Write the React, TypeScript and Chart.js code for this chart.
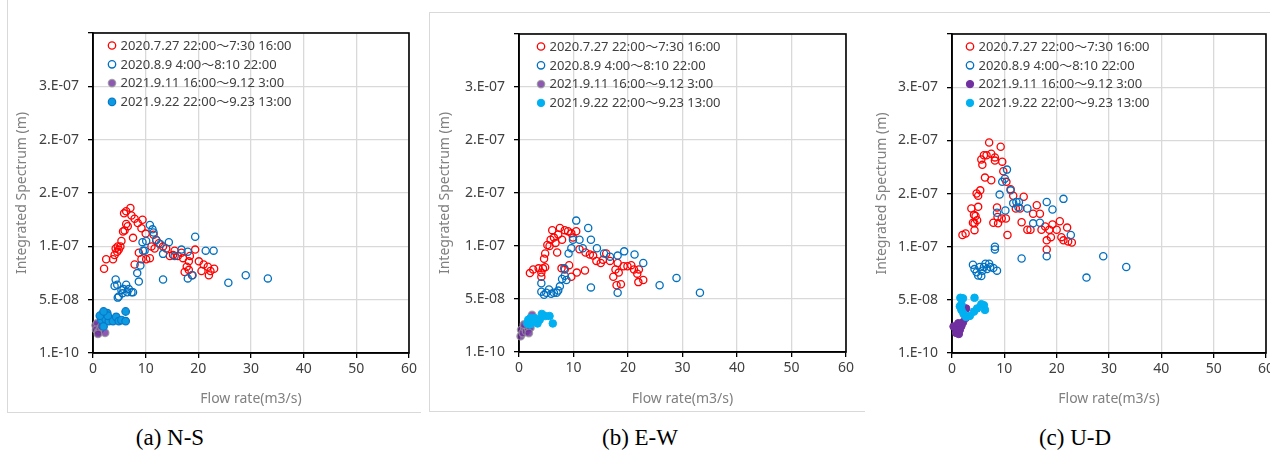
import React, { useEffect, useRef } from "react";
import { Chart, registerables } from "chart.js";

Chart.register(...registerables);

// ---------- labels ----------
const seriesLabels = [
  "2020.7.27 22:00〜7:30 16:00",
  "2020.8.9 4:00〜8:10 22:00",
  "2021.9.11 16:00〜9.12 3:00",
  "2021.9.22 22:00〜9.23 13:00",
];
const yTickLabels = ["1.E-10", "5.E-08", "1.E-07", "2.E-07", "2.E-07", "3.E-07", ""];
const xTitle = "Flow rate(m3/s)";
const yTitle = "Integrated Spectrum (m)";
const captions = ["(a) N-S", "(b) E-W", "(c) U-D"];

type Pt = [number, number];

// ---------- (a) N-S ----------
const nsRed: Pt[] = [
  [2.1, 7.9e-8], [2.5, 8.8e-8], [3.8, 8.8e-8], [4.1, 9.2e-8], [4.6, 9.5e-8], [4.3, 9.8e-8],
  [4.7, 1.0e-7], [5.2, 1.0e-7], [5.4, 1.05e-7], [4.9, 9.7e-8], [5.7, 1.14e-7], [6.0, 1.15e-7],
  [6.3, 1.21e-7], [6.6, 1.19e-7], [5.9, 1.31e-7], [6.3, 1.33e-7], [7.1, 1.36e-7], [7.3, 1.29e-7],
  [7.9, 1.26e-7], [8.5, 1.22e-7], [9.4, 1.25e-7], [9.2, 1.17e-7], [7.6, 1.08e-7], [10.0, 1.12e-7],
  [7.9, 8.3e-8], [8.7, 9.4e-8], [9.2, 8.8e-8], [10.1, 8.8e-8], [10.8, 8.9e-8], [11.1, 1.0e-7],
  [11.7, 9.8e-8], [12.5, 1.03e-7], [13.3, 1.0e-7], [13.9, 9.8e-8], [14.6, 9.1e-8], [15.2, 9.2e-8],
  [15.5, 9.6e-8], [16.1, 9.1e-8], [16.8, 9.4e-8], [17.1, 8.9e-8], [17.4, 7.6e-8], [17.8, 8.1e-8],
  [18.2, 8.6e-8], [18.4, 9.1e-8], [18.2, 7.8e-8], [18.8, 7.3e-8], [19.4, 9.7e-8], [20.1, 8.6e-8],
  [20.6, 7.7e-8], [21.0, 8.3e-8], [21.8, 8.1e-8], [22.0, 7.3e-8], [22.3, 7.7e-8], [23.0, 7.9e-8],
  [12.0, 1.06e-7], [11.5, 1.11e-7],
];
const nsBlue: Pt[] = [
  [4.3, 6.9e-8], [4.1, 6.3e-8], [4.6, 6.4e-8], [4.9, 5.3e-8], [5.4, 5.9e-8], [5.8, 6.0e-8],
  [6.3, 6.4e-8], [6.8, 6.0e-8], [7.3, 5.7e-8], [6.5, 5.7e-8], [7.6, 5.7e-8], [5.6, 5.6e-8],
  [8.4, 7.5e-8], [8.7, 6.7e-8], [9.0, 8.2e-8], [9.5, 9.6e-8], [9.4, 1.04e-7], [9.8, 9.6e-8],
  [10.1, 1.05e-7], [10.8, 1.2e-7], [11.3, 1.16e-7], [11.5, 1.13e-7], [12.0, 1.06e-7], [12.8, 1.02e-7],
  [13.3, 9.3e-8], [13.3, 6.9e-8], [14.4, 1.04e-7], [15.5, 9.1e-8], [16.8, 9.7e-8], [18.0, 9.5e-8],
  [18.0, 7.0e-8], [18.9, 7.3e-8], [19.4, 1.09e-7], [21.4, 9.6e-8], [22.9, 9.6e-8], [25.7, 6.6e-8],
  [29.0, 7.3e-8], [33.2, 7.0e-8], [4.7, 5.2e-8],
];
const nsPurple: Pt[] = [
  [0.5, 2.6e-8], [0.8, 2.8e-8], [0.6, 2.2e-8], [1.0, 1.95e-8], [1.3, 2.2e-8], [1.6, 2.5e-8],
  [2.3, 1.9e-8], [2.5, 3.6e-8], [1.9, 3.0e-8], [0.95, 1.8e-8],
];
const nsCyan: Pt[] = [
  [2.0, 3.3e-8], [2.3, 3.6e-8], [2.7, 3.75e-8], [1.6, 3.1e-8], [2.0, 2.5e-8], [2.4, 3.2e-8],
  [3.0, 3.0e-8], [3.8, 3.0e-8], [4.4, 3.4e-8], [4.9, 3.0e-8], [5.4, 3.1e-8], [6.2, 3.9e-8],
  [6.2, 3.0e-8], [2.8, 3.5e-8], [1.3, 3.5e-8], [2.0, 3.9e-8],
];

// ---------- (b) E-W ----------
const ewRed: Pt[] = [
  [2.0, 7.45e-8], [2.6, 7.8e-8], [3.6, 7.9e-8], [4.1, 7.5e-8], [4.4, 7.9e-8], [4.8, 8.0e-8],
  [4.1, 7.1e-8], [4.6, 8.8e-8], [4.8, 9.3e-8], [5.2, 1.01e-7], [5.6, 1.0e-7], [6.1, 1.15e-7],
  [5.8, 1.06e-7], [6.4, 1.08e-7], [6.7, 1.03e-7], [7.0, 9.4e-8], [7.2, 1.11e-7], [7.5, 1.17e-7],
  [7.9, 1.06e-7], [8.4, 1.15e-7], [9.0, 1.14e-7], [9.6, 1.12e-7], [10.5, 1.14e-7], [9.9, 1.08e-7],
  [7.8, 7.9e-8], [8.4, 7.8e-8], [9.2, 8.2e-8], [9.6, 7.1e-8], [10.6, 7.5e-8], [12.1, 7.7e-8],
  [11.1, 9.7e-8], [12.2, 9.4e-8], [13.0, 9.2e-8], [13.6, 9.1e-8], [14.2, 8.6e-8], [15.0, 8.4e-8],
  [15.4, 8.7e-8], [16.0, 9.3e-8], [16.7, 8.6e-8], [17.3, 7.1e-8], [17.7, 7.8e-8], [18.1, 8.4e-8],
  [18.3, 7.5e-8], [17.9, 6.3e-8], [18.7, 6.4e-8], [19.2, 8.1e-8], [19.9, 8.1e-8], [20.6, 8.2e-8],
  [21.1, 7.8e-8], [21.7, 7.4e-8], [22.0, 7.8e-8], [21.9, 6.6e-8], [22.8, 6.8e-8],
];
const ewBlue: Pt[] = [
  [4.1, 6.5e-8], [4.1, 5.7e-8], [4.6, 5.4e-8], [5.0, 5.6e-8], [5.5, 5.9e-8], [5.9, 5.5e-8],
  [6.4, 5.6e-8], [6.9, 5.6e-8], [7.2, 5.8e-8], [7.5, 6.2e-8], [7.9, 6.9e-8], [8.4, 7.2e-8],
  [8.7, 6.8e-8], [8.3, 7.9e-8], [9.1, 9.3e-8], [9.6, 9.8e-8], [9.9, 1.06e-7], [10.5, 1.24e-7],
  [11.1, 1.06e-7], [11.7, 9.8e-8], [12.7, 1.17e-7], [13.2, 1.06e-7], [13.2, 6.1e-8], [14.3, 9.8e-8],
  [15.6, 9.3e-8], [16.7, 9.0e-8], [18.1, 9.1e-8], [18.1, 5.6e-8], [19.3, 9.5e-8], [21.2, 9.2e-8],
  [22.8, 8.4e-8], [25.8, 6.3e-8], [28.9, 7.0e-8], [33.2, 5.6e-8],
];
const ewPurple: Pt[] = [
  [0.4, 2.1e-8], [0.3, 1.5e-8], [0.7, 1.8e-8], [1.0, 2.3e-8], [1.3, 1.95e-8], [1.7, 2.2e-8],
  [2.1, 2.3e-8], [2.4, 3.5e-8], [0.9, 2.6e-8], [1.8, 1.8e-8],
];
const ewCyan: Pt[] = [
  [1.7, 3.05e-8], [2.1, 3.2e-8], [2.0, 2.6e-8], [2.6, 2.9e-8], [3.4, 2.7e-8], [3.8, 3.05e-8],
  [4.2, 3.6e-8], [4.8, 3.4e-8], [5.6, 3.4e-8], [6.2, 2.7e-8], [1.5, 2.7e-8], [2.9, 3.2e-8],
];

// ---------- (c) U-D ----------
const udRed: Pt[] = [
  [2.0, 1.11e-7], [2.6, 1.125e-7], [3.7, 1.36e-7], [4.0, 1.225e-7], [4.3, 1.156e-7], [4.5, 1.29e-7],
  [4.2, 1.3e-7], [4.8, 1.25e-7], [4.7, 1.5e-7], [5.0, 1.48e-7], [5.4, 1.53e-7], [5.0, 1.375e-7],
  [4.3, 1.22e-7], [5.8, 1.77e-7], [5.6, 1.82e-7], [6.1, 1.86e-7], [6.6, 1.86e-7], [6.3, 1.65e-7],
  [7.1, 1.98e-7], [7.5, 1.875e-7], [8.2, 1.84e-7], [7.5, 1.625e-7], [8.2, 1.81e-7], [7.9, 1.225e-7],
  [8.6, 1.37e-7], [8.7, 1.28e-7], [8.8, 1.22e-7], [9.3, 1.94e-7], [9.6, 1.8e-7], [9.8, 1.71e-7],
  [9.5, 1.265e-7], [10.3, 1.265e-7], [10.6, 1.11e-7], [10.4, 1.61e-7], [11.2, 1.54e-7], [11.7, 1.48e-7],
  [12.2, 1.36e-7], [13.0, 1.36e-7], [13.3, 1.23e-7], [13.7, 1.47e-7], [14.4, 1.16e-7], [15.0, 1.16e-7],
  [15.5, 1.31e-7], [16.2, 1.39e-7], [16.8, 1.31e-7], [17.1, 1.16e-7], [17.8, 1.19e-7], [18.1, 1.06e-7],
  [18.1, 9.75e-8], [18.6, 1.16e-7], [18.9, 1.09e-7], [19.2, 1.21e-7], [20.0, 1.16e-7], [20.6, 1.24e-7],
  [20.9, 1.09e-7], [21.3, 1.06e-7], [22.0, 1.18e-7], [22.2, 1.05e-7], [22.9, 1.04e-7],
];
const udBlue: Pt[] = [
  [4.0, 8.3e-8], [4.3, 7.9e-8], [4.7, 7.6e-8], [5.0, 7.3e-8], [5.6, 7.25e-8], [5.3, 8.1e-8],
  [6.1, 8.1e-8], [6.4, 8.4e-8], [7.1, 8.4e-8], [7.3, 8.1e-8], [7.9, 8.0e-8], [8.6, 7.75e-8],
  [5.8, 7.75e-8], [6.7, 7.9e-8], [8.2, 1.0e-7], [8.2, 9.75e-8], [8.6, 1.32e-7], [9.1, 1.49e-7],
  [9.6, 1.61e-7], [10.1, 1.64e-7], [10.5, 1.725e-7], [10.2, 1.34e-7], [11.2, 1.53e-7], [11.7, 1.41e-7],
  [12.3, 1.42e-7], [12.8, 1.42e-7], [12.7, 1.37e-7], [13.3, 8.9e-8], [14.4, 1.36e-7], [15.5, 1.22e-7],
  [16.8, 1.225e-7], [18.1, 1.42e-7], [18.1, 9.1e-8], [19.2, 1.35e-7], [21.3, 1.45e-7], [22.7, 1.11e-7],
  [25.7, 7.1e-8], [28.9, 9.1e-8], [33.3, 8.1e-8],
];
const udPurple: Pt[] = [
  [0.3, 2.5e-8], [0.8, 2.34e-8], [0.8, 1.9e-8], [1.3, 1.8e-8], [1.5, 2.2e-8], [1.8, 2.56e-8],
  [2.1, 2.9e-8], [2.6, 3.3e-8], [2.7, 4.2e-8], [1.2, 2.8e-8],
];
const udCyan: Pt[] = [
  [1.6, 5.2e-8], [2.1, 5.15e-8], [1.8, 4.6e-8], [1.8, 4.06e-8], [2.2, 3.7e-8], [2.7, 3.4e-8],
  [3.4, 3.5e-8], [4.2, 3.9e-8], [4.3, 5.2e-8], [4.8, 4.2e-8], [5.6, 4.6e-8], [6.1, 4.5e-8],
  [6.3, 4.06e-8], [1.5, 4.4e-8],
];

// ---------- styles ----------
type Style = { fill: string; stroke: string; radius: number; width: number };
const openRed: Style = { fill: "rgba(0,0,0,0)", stroke: "#FF0000", radius: 3.6, width: 1.3 };
const openBlue: Style = { fill: "rgba(0,0,0,0)", stroke: "#0070C0", radius: 3.6, width: 1.3 };
const softPurple: Style = { fill: "rgba(112,48,160,0.8)", stroke: "rgba(150,150,150,0.75)", radius: 3.8, width: 1.3 };
const solidPurple: Style = { fill: "#7030A0", stroke: "#7030A0", radius: 3.8, width: 1 };
const blueCyan: Style = { fill: "#0C9BE0", stroke: "#0A78C8", radius: 3.8, width: 1.2 };
const solidCyan: Style = { fill: "#00B0F0", stroke: "#00B0F0", radius: 3.8, width: 1 };

type Panel = {
  key: string;
  left: number; width: number;
  plotLeft: number; plotTop: number; plotRight: number; plotBottom: number;
  yTitleX: number;
  legendDx: number;
  series: Pt[][];
  styles: Style[];
  caption: string;
  captionX: number;
};

const CANVAS_H = 420;
const FONT = '"Noto Sans", "Noto Sans CJK JP", sans-serif';

const panels: Panel[] = [
  { key: "ns", left: 0, width: 420, plotLeft: 93, plotTop: 33, plotRight: 409, plotBottom: 353, yTitleX: 22, legendDx: 19,
    series: [nsRed, nsBlue, nsPurple, nsCyan], styles: [openRed, openBlue, softPurple, blueCyan], caption: captions[0], captionX: 170 },
  { key: "ew", left: 425, width: 440, plotLeft: 94, plotTop: 34, plotRight: 421, plotBottom: 352, yTitleX: 20, legendDx: 22,
    series: [ewRed, ewBlue, ewPurple, ewCyan], styles: [openRed, openBlue, softPurple, solidCyan], caption: captions[1], captionX: 640 },
  { key: "ud", left: 860, width: 410, plotLeft: 92, plotTop: 34, plotRight: 406, plotBottom: 353, yTitleX: 22, legendDx: 18,
    series: [udRed, udBlue, udPurple, udCyan], styles: [openRed, openBlue, solidPurple, solidCyan], caption: captions[2], captionX: 1075 },
];

const insideLegend = {
  id: "insideLegend",
  afterDraw(chart: any, _args: any, opts: any) {
    const { ctx, chartArea } = chart;
    ctx.save();
    ctx.font = `13px ${FONT}`;
    ctx.textBaseline = "middle";
    ctx.textAlign = "left";
    (opts.styles as Style[]).forEach((st, i) => {
      const cx = chartArea.left + opts.dx;
      const cy = chartArea.top + 12.5 + i * 18.8;
      ctx.beginPath();
      ctx.arc(cx, cy, 3.7, 0, Math.PI * 2);
      ctx.fillStyle = st.fill;
      ctx.fill();
      ctx.lineWidth = st.width;
      ctx.strokeStyle = st.stroke;
      ctx.stroke();
      ctx.fillStyle = "#404040";
      ctx.fillText(seriesLabels[i], cx + 8.5, cy + 0.5);
    });
    ctx.restore();
  },
};

const plotFrame = {
  id: "plotFrame",
  beforeDatasetsDraw(chart: any) {
    const { ctx, chartArea } = chart;
    ctx.save();
    ctx.strokeStyle = "#000";
    ctx.lineWidth = 1.6;
    ctx.strokeRect(chartArea.left, chartArea.top, chartArea.right - chartArea.left, chartArea.bottom - chartArea.top);
    ctx.restore();
  },
};

function PanelChart({ p }: { p: Panel }) {
  const ref = useRef<HTMLCanvasElement | null>(null);
  useEffect(() => {
    if (!ref.current) return;
    const chart = new Chart(ref.current, {
      type: "scatter",
      data: {
        datasets: p.series.map((pts, i) => ({
          label: seriesLabels[i],
          data: pts.map(([x, y]) => ({ x, y })),
          pointStyle: "circle",
          pointRadius: p.styles[i].radius,
          pointBorderWidth: p.styles[i].width,
          pointBackgroundColor: p.styles[i].fill,
          pointBorderColor: p.styles[i].stroke,
          showLine: false,
          order: 4 - i,
          clip: 6,
        })),
      },
      options: {
        animation: false,
        responsive: false,
        maintainAspectRatio: false,
        events: [],
        layout: {
          autoPadding: false,
          padding: { top: p.plotTop, right: p.width - p.plotRight, left: 0, bottom: 0 },
        },
        plugins: {
          legend: { display: false },
          tooltip: { enabled: false },
          insideLegend: { dx: p.legendDx, styles: p.styles },
        } as any,
        scales: {
          x: {
            type: "linear",
            min: 0,
            max: 60,
            ticks: { stepSize: 10, color: "#404040", font: { size: 14, family: FONT }, padding: 3, maxRotation: 0 },
            grid: { color: "#d9d9d9", lineWidth: 1.3, tickColor: "#000", tickLength: 5, tickWidth: 1.3 },
            border: { color: "#000", width: 1.6 },
            title: { display: true, text: xTitle, color: "#808080", font: { size: 14, family: FONT }, padding: { top: 0, bottom: 13 } },
            afterFit: (s: any) => {
              s.height = CANVAS_H - p.plotBottom;
              s.paddingLeft = 0;
              s.paddingRight = 0;
            },
          },
          y: {
            type: "linear",
            min: 1e-10,
            max: 3e-7,
            ticks: {
              stepSize: 5e-8,
              color: "#404040",
              font: { size: 14, family: FONT },
              padding: 9,
              callback: (_v: any, i: number) => yTickLabels[i] ?? "",
            },
            grid: { color: "#d9d9d9", lineWidth: 1.3, tickColor: "#000", tickLength: 5, tickWidth: 1.3 },
            border: { color: "#000", width: 1.6 },
            title: { display: true, text: yTitle, color: "#808080", font: { size: 14, family: FONT }, padding: { top: p.yTitleX - 8.4, bottom: 0 } },
            afterFit: (s: any) => {
              s.width = p.plotLeft;
              s.paddingTop = 0;
              s.paddingBottom = 0;
            },
          },
        },
      } as any,
      plugins: [plotFrame, insideLegend],
    });
    return () => chart.destroy();
  }, [p]);
  return (
    <canvas
      ref={ref}
      width={p.width}
      height={CANVAS_H}
      style={{ position: "absolute", left: p.left, top: 0, width: p.width, height: CANVAS_H }}
    />
  );
}

export default function App() {
  const line = "#d9d9d9";
  return (
    <div style={{ position: "absolute", left: 0, top: 0, width: 1270, height: 450, background: "#fff", overflow: "hidden" }}>
      {/* figure frames */}
      <div style={{ position: "absolute", left: 7, top: 0, width: 413, height: 412, borderLeft: `1px solid ${line}`, borderBottom: `1px solid ${line}` }} />
      <div style={{ position: "absolute", left: 429, top: 12, width: 436, height: 400, borderLeft: `1px solid ${line}`, borderTop: `1px solid ${line}`, borderBottom: `1px solid ${line}`, boxSizing: "border-box" }} />
      <div style={{ position: "absolute", left: 865, top: 12, width: 405, height: 1, background: line }} />
      {panels.map((p) => (
        <PanelChart key={p.key} p={p} />
      ))}
      {panels.map((p) => (
        <div
          key={p.key + "c"}
          style={{
            position: "absolute", left: p.captionX - 100, top: 425, width: 200, textAlign: "center",
            fontFamily: '"Liberation Serif", "Times New Roman", serif', fontSize: 23, lineHeight: "25px", color: "#000",
          }}
        >
          {p.caption}
        </div>
      ))}
    </div>
  );
}
